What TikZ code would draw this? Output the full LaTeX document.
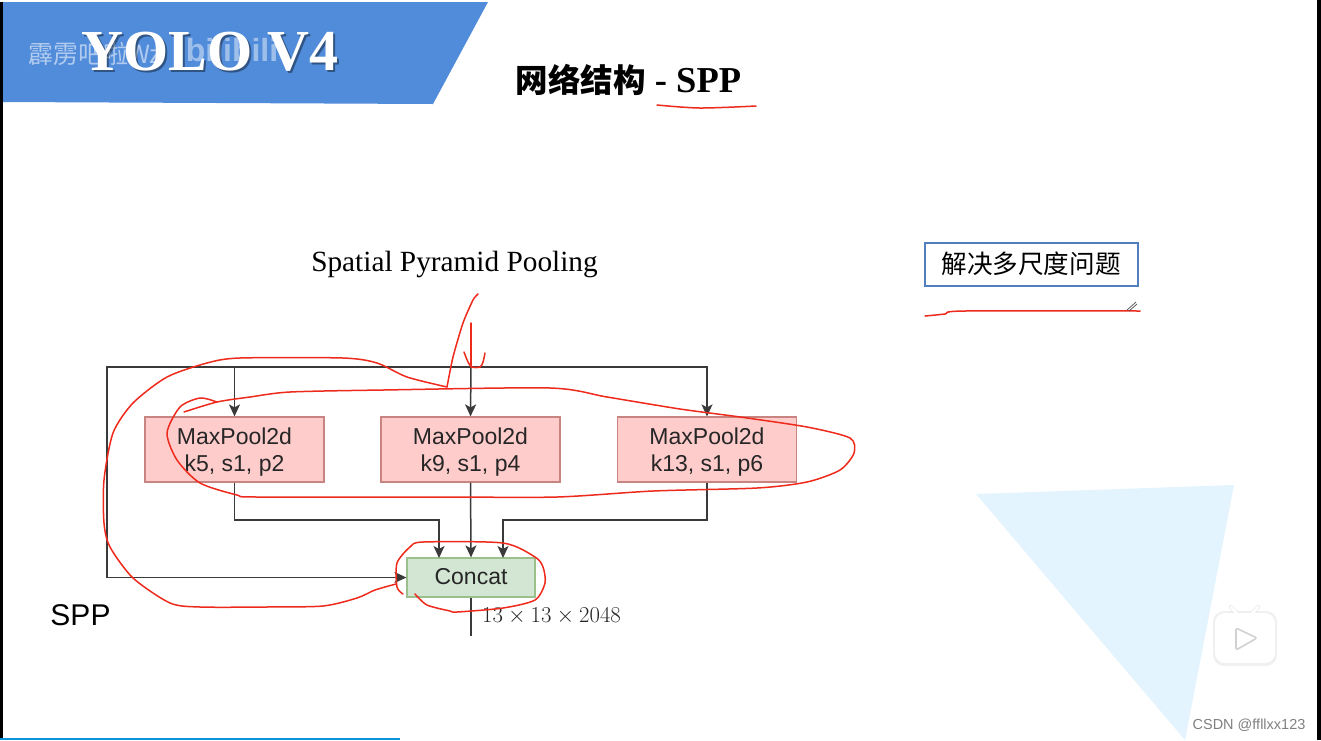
\documentclass[tikz,border=0pt]{standalone}
\usepackage{fontspec}
\setmainfont{Liberation Sans}
\newfontfamily\serifx{Liberation Serif}
\newfontfamily\cjk{Noto Sans CJK SC}
\usetikzlibrary{arrows.meta}
\definecolor{banner}{HTML}{518CDB}
\definecolor{pinkfill}{HTML}{FFCCCC}
\definecolor{pinkline}{HTML}{C88480}
\definecolor{greenfill}{HTML}{D3E5D3}
\definecolor{greenline}{HTML}{9CC08C}
\definecolor{wire}{HTML}{3A3A3A}
\definecolor{inkred}{HTML}{EE2A1C}
\definecolor{tri}{HTML}{E3F4FE}
\definecolor{boxblue}{HTML}{4F7FBF}
\newcommand{\pooltxt}[2]{\rule{0pt}{21pt}#1\\#2}
\tikzset{
  x=1pt,y=-1pt,
  poolbox/.style={draw=pinkline,fill=pinkfill,line width=1.2pt,minimum width=179pt,minimum height=65pt,inner sep=0pt,align=center,text=black!85,font=\fontsize{23}{27}\selectfont},
  concatbox/.style={draw=greenline,fill=greenfill,line width=1.2pt,minimum width=128pt,minimum height=39pt,inner sep=0pt,text=black!85,font=\fontsize{23}{28}\selectfont},
  wireline/.style={draw=wire,line width=1.5pt},
  arr/.style={wireline,-{Stealth[length=12pt,width=11pt,inset=3pt]}},
  ink/.style={draw=inkred,line width=1.5pt,line cap=round,line join=round},
  label/.style={inner sep=0pt,anchor=center},
}
\begin{document}
\begin{tikzpicture}
\useasboundingbox (0,0) rectangle (1321,740);
\fill[white] (0,0) rectangle (1321,740);
% frame strips
\fill[black] (0,2) rectangle (3,740);
\fill[black] (1317,0) rectangle (1321,740);
\fill[cyan!80!blue] (0,738) rectangle (400,740);
% background triangle
\fill[tri] (976,494) -- (1234,485) -- (1185,740) -- cycle;
% banner
\fill[banner] (3,2) -- (488,2) -- (433,104) -- (3,102) -- cycle;
\node[label,text=white,opacity=.55,font=\cjk\fontsize{25}{28}\selectfont] (wm1) at (95,54) {霹雳吧啦Wz};
\node[label,text=white,opacity=.45,font=\bfseries\fontsize{32}{36}\selectfont] (wm2) at (232,50) {bilibili};
\node[label,text=black,opacity=.4,font=\serifx\bfseries\fontsize{58}{60}\selectfont] (yoloS) at (212,54) {YOLO V4};
\node[label,text=white,font=\serifx\bfseries\fontsize{58}{60}\selectfont] (yolo) at (210,52) {YOLO V4};
% title
\node[label,font=\bfseries\fontsize{32.5}{36}\selectfont] (title) at (628.5,80) {{\cjk\bfseries 网络结构} {\serifx\bfseries\fontsize{36.5}{36}\selectfont - SPP}};
\draw[ink] plot[smooth,tension=.5] coordinates {(657,105) (700,108) (756,106)};
% caption
\node[label,font=\serifx\fontsize{29.3}{34}\selectfont] (cap) at (454.5,264) {Spatial Pyramid Pooling};
% side box
\node[draw=boxblue,line width=2pt,minimum width=213pt,minimum height=43pt,inner sep=0pt,font=\cjk\fontsize{25.6}{30}\selectfont] (sidebox) at (1031,264) {解决多尺度问题};
\draw[ink] plot[smooth,tension=.5] coordinates {(925,316) (945,314) (965,311) (1140,311)};
\draw[black!70,line width=.7pt] (1127,310) -- (1136,302);
\draw[black!70,line width=.7pt] (1129,311) -- (1137,304);
% diagram nodes
\node[poolbox] (p1) at (234.5,449.5) {\pooltxt{MaxPool2d}{k5, s1, p2}};
\node[poolbox] (p2) at (470.5,449.5) {\pooltxt{MaxPool2d}{k9, s1, p4}};
\node[poolbox] (p3) at (707,449.5) {\pooltxt{MaxPool2d}{k13, s1, p6}};
\node[concatbox] (concat) at (471,577.5) {\rule[-2pt]{0pt}{2pt}Concat};
\node[label,font=\fontsize{30}{32}\selectfont] (spp) at (80.5,615) {SPP};
\node[label,font=\fontsize{21.6}{24}\selectfont,text=black!85,scale=1.094,transform shape] (dim) at (551.5,616) {$13\times13\times2048$};
% connectors
\coordinate (branch) at (471,367);
\coordinate (corner1) at (107,367);
\coordinate (corner2) at (107,577.5);
\coordinate (out) at (471,636);
\coordinate (t1) at (439,520);
\coordinate (t3) at (503,520);
\coordinate (c1) at (439,558);
\coordinate (c3) at (503,558);
\draw[arr] (branch) -| (p1.north);
\draw[arr] (branch) -- (p2.north);
\draw[arr] (branch) -| (p3.north);
\draw[arr] (branch) -- (corner1) -- (corner2) -- (concat.west);
\draw[arr] (p1.south) |- (t1) -- (c1);
\draw[arr] (p2.south) -- (concat.north);
\draw[arr] (p3.south) |- (t3) -- (c3);
\draw[wireline] (concat.south) -- (out);
% hand-drawn red strokes
\draw[ink] plot[smooth,tension=.45] coordinates {(396,584) (375,590) (357,598) (323,606) (265,607) (200,607) (170,603) (133,578) (110,547) (104,523) (104,480) (113,433) (133,403) (167,377) (207,363) (240,358) (343,358) (377,363) (407,377) (447,387)};
\draw[ink] plot[smooth,tension=.4] coordinates {(447,387) (453,357) (463,323) (473,300) (478,294)};
\draw[ink] plot[smooth,tension=.45] coordinates {(184,412) (217,402) (250,397) (290,392) (383,390) (550,388) (607,397) (680,409) (740,417) (807,427) (850,438) (854,453) (840,470) (807,482) (757,488) (653,491) (557,497) (440,497) (257,497) (237,495) (200,483) (177,460) (167,433) (180,407) (200,398) (217,402)};
\draw[ink] plot[smooth,tension=.45] coordinates {(403,594) (397,587) (397,563) (410,547) (423,542) (503,543) (535,557) (543,567) (545,583) (535,600) (503,608) (457,612) (450,611) (427,605) (415,594)};
\draw[ink] (471,323) -- (471,367);
\draw[ink] plot[smooth,tension=.5] coordinates {(464,352) (468,362) (472,367) (480,367) (483,362) (485,353)};
% video logo
\fill[black,opacity=.06,rounded corners=11pt] (1213,611) rectangle (1277,666);
\draw[black!10,line width=4pt,line cap=round] (1231,607) -- (1238,615);
\draw[black!10,line width=4pt,line cap=round] (1258,607) -- (1251,615);
\draw[white,line width=3pt,line cap=round] (1231,607) -- (1238,615);
\draw[white,line width=3pt,line cap=round] (1258,607) -- (1251,615);
\fill[white,rounded corners=10pt] (1215,613) rectangle (1275,663);
\draw[black!18,line width=1.6pt,line join=round,rounded corners=2pt] (1236,628) -- (1257,638) -- (1236,650) -- cycle;
% credit
\node[label,text=black!50,font=\fontsize{14.5}{16}\selectfont] (credit) at (1249,725) {CSDN @ffllxx123};
\end{tikzpicture}
\end{document}
